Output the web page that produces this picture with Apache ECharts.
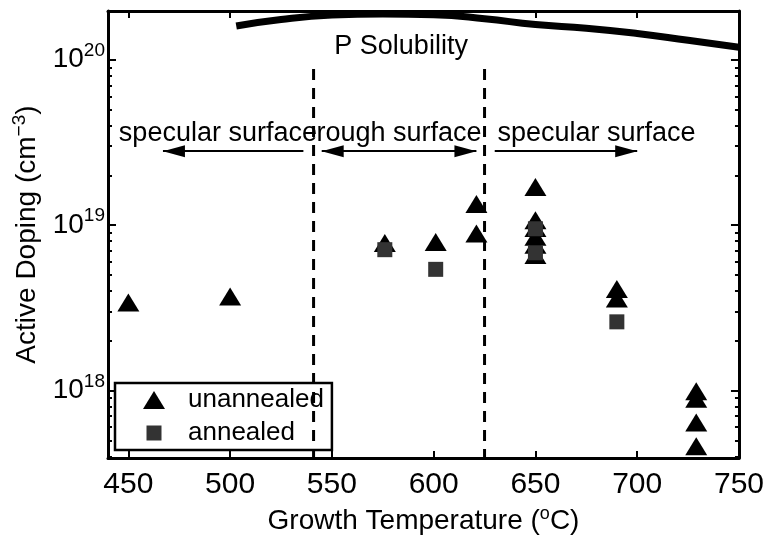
<!DOCTYPE html>
<html>
<head>
<meta charset="utf-8">
<script src="https://cdn.jsdelivr.net/npm/echarts@6/dist/echarts.min.js"></script>
<style>
html,body{margin:0;padding:0;background:#fff;}
#chart{width:767px;height:540px;}
</style>
</head>
<body>
<div id="chart"></div>
<script>
// ---- data ----
const unannealedTemp   = [450, 500, 576, 601, 621, 621, 650, 650, 650, 650, 650, 650, 690, 690, 729, 729, 729, 729];
const unannealedDoping = [3.4e18, 3.7e18, 7.8e18, 7.9e18, 1.34e19, 8.9e18, 1.7e19, 1.07e19, 9.6e18, 8.5e18, 7.6e18, 6.6e18, 4.1e18, 3.6e18, 9.9e17, 8.9e17, 6.4e17, 4.6e17];
const annealedTemp     = [576, 601, 650, 650, 690];
const annealedDoping   = [7.1e18, 5.4e18, 9.5e18, 6.8e18, 2.6e18];
const solubilityTemp   = [503, 525, 550, 575, 600, 625, 650, 675, 700, 725, 750];
const solubilityDoping = [1.60e20, 1.75e20, 1.86e20, 1.89e20, 1.87e20, 1.77e20, 1.63e20, 1.55e20, 1.44e20, 1.31e20, 1.19e20];
const boundaryTemps    = [541, 625];
const boundaryTop      = 8.8e19;
const xTicks = [450, 500, 550, 600, 650, 700, 750];
const yTicks = [1e18, 1e19, 1e20];
const yMinorTicks = [4e17,5e17,6e17,7e17,8e17,9e17,2e18,3e18,4e18,5e18,6e18,7e18,8e18,9e18,2e19,3e19,4e19,5e19,6e19,7e19,8e19,9e19];
const regionLabels = ['specular surface', 'rough surface', 'specular surface'];
const regionLabelTemps = [494, 583, 680];
const regionLabelDoping = 3.6e19;
const arrowFrom = [536, 545, 630];
const arrowTo   = [467, 621, 700];
const arrowBoth = [false, true, false];
const arrowDoping = 2.8e19;
const solubilityLabel = 'P Solubility';
const solubilityLabelTemp = 584;
const solubilityLabelDoping = 1.2e20;

const X_MIN = 440, X_MAX = 750, Y_MIN = 3.9e17, Y_MAX = 1.97e20;
const FONT = "'Liberation Sans Narrow', 'Arial Narrow', 'Liberation Sans', Arial, sans-serif";

const chart = echarts.init(document.getElementById('chart'), null, {renderer: 'canvas'});

const arrowHead = 'path://M-22,-22 M22,22 M0,0 L6,22 L-6,22 Z';
const triIcon = 'path://M0,0 M58,18 M18,18 L29,0 L40,18 Z';
const sqIcon = 'path://M0,0 M58,18 M21.5,1.5 L36.5,1.5 L36.5,16.5 L21.5,16.5 Z';

function yAxisBase(pos, minor) {
  return {
    type: 'log', logBase: 10, min: Y_MIN, max: Y_MAX, position: pos,
    axisLine: {show: !minor, lineStyle: {color: '#000', width: 3}},
    axisTick: {show: true, inside: true, length: minor ? 4 : 8, lineStyle: {color: '#000', width: 2},
               customValues: minor ? yMinorTicks : yTicks},
    axisLabel: {show: false},
    splitLine: {show: false},
    minorTick: {show: false}
  };
}

const yAxes = [
  Object.assign(yAxisBase('left', false), {
    axisLabel: {
      show: true, margin: 3, customValues: yTicks, color: '#000',
      formatter: v => '{b|10}{s|' + Math.round(Math.log10(v)) + '}',
      rich: {
        b: {fontSize: 28, fontFamily: FONT, color: '#000'},
        s: {fontSize: 19, fontFamily: FONT, color: '#000', padding: [0, 0, 18, 0]}
      }
    },
    name: 'Active Doping (cm{sup|−3})',
    nameLocation: 'middle', nameGap: 63, nameRotate: 90,
    nameTextStyle: {
      fontSize: 28, fontFamily: FONT, color: '#000',
      rich: {sup: {fontSize: 19, fontFamily: FONT, color: '#000', padding: [0, 0, 16, 0]}}
    }
  }),
  yAxisBase('left', true),
  yAxisBase('right', false),
  yAxisBase('right', true)
];

function xAxisBase(pos) {
  return {
    type: 'value', min: X_MIN, max: X_MAX, position: pos,
    axisLine: {show: true, onZero: false, lineStyle: {color: '#000', width: 3}},
    axisTick: {show: true, inside: true, length: 7, lineStyle: {color: '#000', width: 2}, customValues: xTicks},
    axisLabel: {show: false},
    splitLine: {show: false}
  };
}
const xAxes = [
  Object.assign(xAxisBase('bottom'), {
    axisLabel: {show: true, customValues: xTicks, margin: 12, color: '#000', fontSize: 30, fontFamily: FONT},
    name: 'Growth Temperature ({sup|o}C)',
    nameLocation: 'middle', nameGap: 46,
    nameTextStyle: {
      fontSize: 28, fontFamily: FONT, color: '#000',
      rich: {sup: {fontSize: 18, fontFamily: FONT, color: '#000', padding: [0, 0, 14, 0]}}
    }
  }),
  xAxisBase('top')
];

const series = [
  {
    name: 'solubility', type: 'line', smooth: true, showSymbol: false, symbol: 'none',
    data: solubilityTemp.map((t, i) => [t, solubilityDoping[i]]),
    lineStyle: {color: '#000', width: 7}, z: 3, silent: true
  },
  ...boundaryTemps.map(t => ({
    name: 'boundary' + t, type: 'line', symbol: 'none', silent: true, z: 10,
    data: [[t, boundaryTop], [t, Y_MIN]],
    lineStyle: {color: '#000', width: 3, type: [11, 8]}
  })),
  {
    name: 'arrows', type: 'lines', coordinateSystem: 'cartesian2d', silent: true, z: 4,
    data: arrowFrom.map((f, i) => ({
      coords: [[f, arrowDoping], [arrowTo[i], arrowDoping]],
      symbol: [arrowBoth[i] ? arrowHead : 'none', arrowHead]
    })),
    symbolSize: 44,
    lineStyle: {color: '#000', width: 2, opacity: 1},
    itemStyle: {color: '#000'}
  },
  {
    name: 'labels', type: 'scatter', symbolSize: 0, silent: true, z: 4,
    data: regionLabels.map((s, i) => [regionLabelTemps[i], regionLabelDoping, s])
      .concat([[solubilityLabelTemp, solubilityLabelDoping, solubilityLabel]]),
    itemStyle: {opacity: 1, color: '#000'},
    label: {show: true, position: 'inside', formatter: p => p.data[2], color: '#000', opacity: 1, fontSize: 27, fontFamily: FONT}
  },
  {
    name: 'unannealed', type: 'scatter', symbol: 'triangle', symbolSize: [22, 18],
    data: unannealedTemp.map((t, i) => [t, unannealedDoping[i]]),
    itemStyle: {color: '#000', opacity: 1}, z: 5
  },
  {
    name: 'annealed', type: 'scatter', symbol: 'rect', symbolSize: 15,
    data: annealedTemp.map((t, i) => [t, annealedDoping[i]]),
    itemStyle: {color: '#333', opacity: 1}, z: 6
  }
];

chart.setOption({
  animation: false,
  backgroundColor: '#fff',
  grid: {left: 108, right: 23, top: 11, bottom: 79, containLabel: false},
  xAxis: xAxes,
  yAxis: yAxes,
  legend: {
    data: [{name: 'unannealed', icon: triIcon}, {name: 'annealed', icon: sqIcon}],
    orient: 'vertical', left: 115, top: 383,
    itemWidth: 58, itemHeight: 18, itemGap: 3,
    padding: [2, 8, 2, 10],
    backgroundColor: '#fff', borderColor: '#000', borderWidth: 2.5, borderRadius: 0,
    textStyle: {fontSize: 26, fontFamily: FONT, color: '#000', lineHeight: 30},
    selectedMode: false
  },
  series: series
});
</script>
</body>
</html>
